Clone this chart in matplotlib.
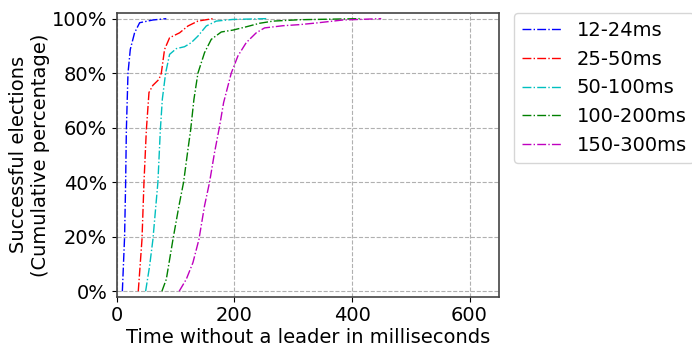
import matplotlib
matplotlib.use("Agg")
import matplotlib.pyplot as plt
from matplotlib.ticker import PercentFormatter

labels = ["12-24ms", "25-50ms", "50-100ms", "100-200ms", "150-300ms"]
colors = ["b", "r", "c", "g", "m"]

x_12_24 = [9.2, 13, 14.8, 16, 18.8, 22.7, 30, 38.6, 61, 84]
y_12_24 = [0, 20, 40, 59, 80, 88.7, 94.8, 98.5, 99.5, 100]

x_25_50 = [36.3, 42.6, 46, 50, 54.5, 61, 71.4, 75.5, 81, 89.6, 106.6, 120.8, 137.8, 163]
y_25_50 = [0, 19, 40, 59, 72.9, 75.5, 77.7, 80, 88.7, 93, 94.8, 97.3, 99.1, 100]

x_50_100 = [48.8, 55.6, 61.2, 69.7, 73.8, 77.2, 82.8, 89.6, 101, 115, 126.5, 137.8, 152, 169, 197, 254]
y_50_100 = [0, 9.3, 19, 40, 59, 70.4, 80, 86.9, 89, 89.7, 91.2, 93.6, 97.3, 99.1, 99.7, 100]

x_100_200 = [76.5, 84, 95.3, 105.5, 113.4, 120.8, 125.3, 131, 137.8, 149, 160.5, 177.5, 197.3, 220, 242.7, 266, 310.7, 413]
y_100_200 = [0, 4.4, 19, 31.3, 40, 52, 59, 70.4, 80, 87.5, 92.4, 95.1, 95.8, 97, 98.3, 99.1, 99.6, 100]

x_150_300 = [105.9, 118, 129.3, 139.5, 149, 157.6, 166, 174.7, 181.5, 194.5, 205.8, 220, 237, 251.2, 282.4, 310.7, 339, 384.4, 449.7]
y_150_300 = [0, 4.4, 10.5, 19, 31.3, 40, 50.8, 60.6, 69.2, 80, 86.3, 91.2, 94.8, 96.6, 97.4, 97.8, 98.4, 99.5, 100]

series = [(x_12_24, y_12_24), (x_25_50, y_25_50), (x_50_100, y_50_100),
          (x_100_200, y_100_200), (x_150_300, y_150_300)]

fig = plt.figure(figsize=(6.92, 3.47), dpi=100)
ax = fig.add_axes([0.169, 0.145, 0.552, 0.817])

for (xs, ys), c, lab in zip(series, colors, labels):
    ax.plot(xs, ys, linestyle="-.", color=c, linewidth=1.0, label=lab)

ax.set_xlim(0, 650)
ax.set_ylim(-2, 102)
ax.set_xticks([0, 200, 400, 600])
ax.set_yticks([0, 20, 40, 60, 80, 100])
ax.yaxis.set_major_formatter(PercentFormatter(100, decimals=0))
ax.grid(True, linestyle="--", color="#b0b0b0", linewidth=0.8)
ax.tick_params(labelsize=14)
for s in ax.spines.values():
    s.set_color("#444444")
    s.set_linewidth(1.2)

ax.set_xlabel("Time without a leader in milliseconds", fontsize=14, labelpad=2)
ax.set_ylabel("Successful elections\n(Cumulative percentage)", fontsize=14, labelpad=1)

ax.legend(loc="upper left", bbox_to_anchor=(1.04, 1.0), fontsize=14,
          handlelength=2.0, borderaxespad=0.0)

fig.savefig("out.png", dpi=100)
